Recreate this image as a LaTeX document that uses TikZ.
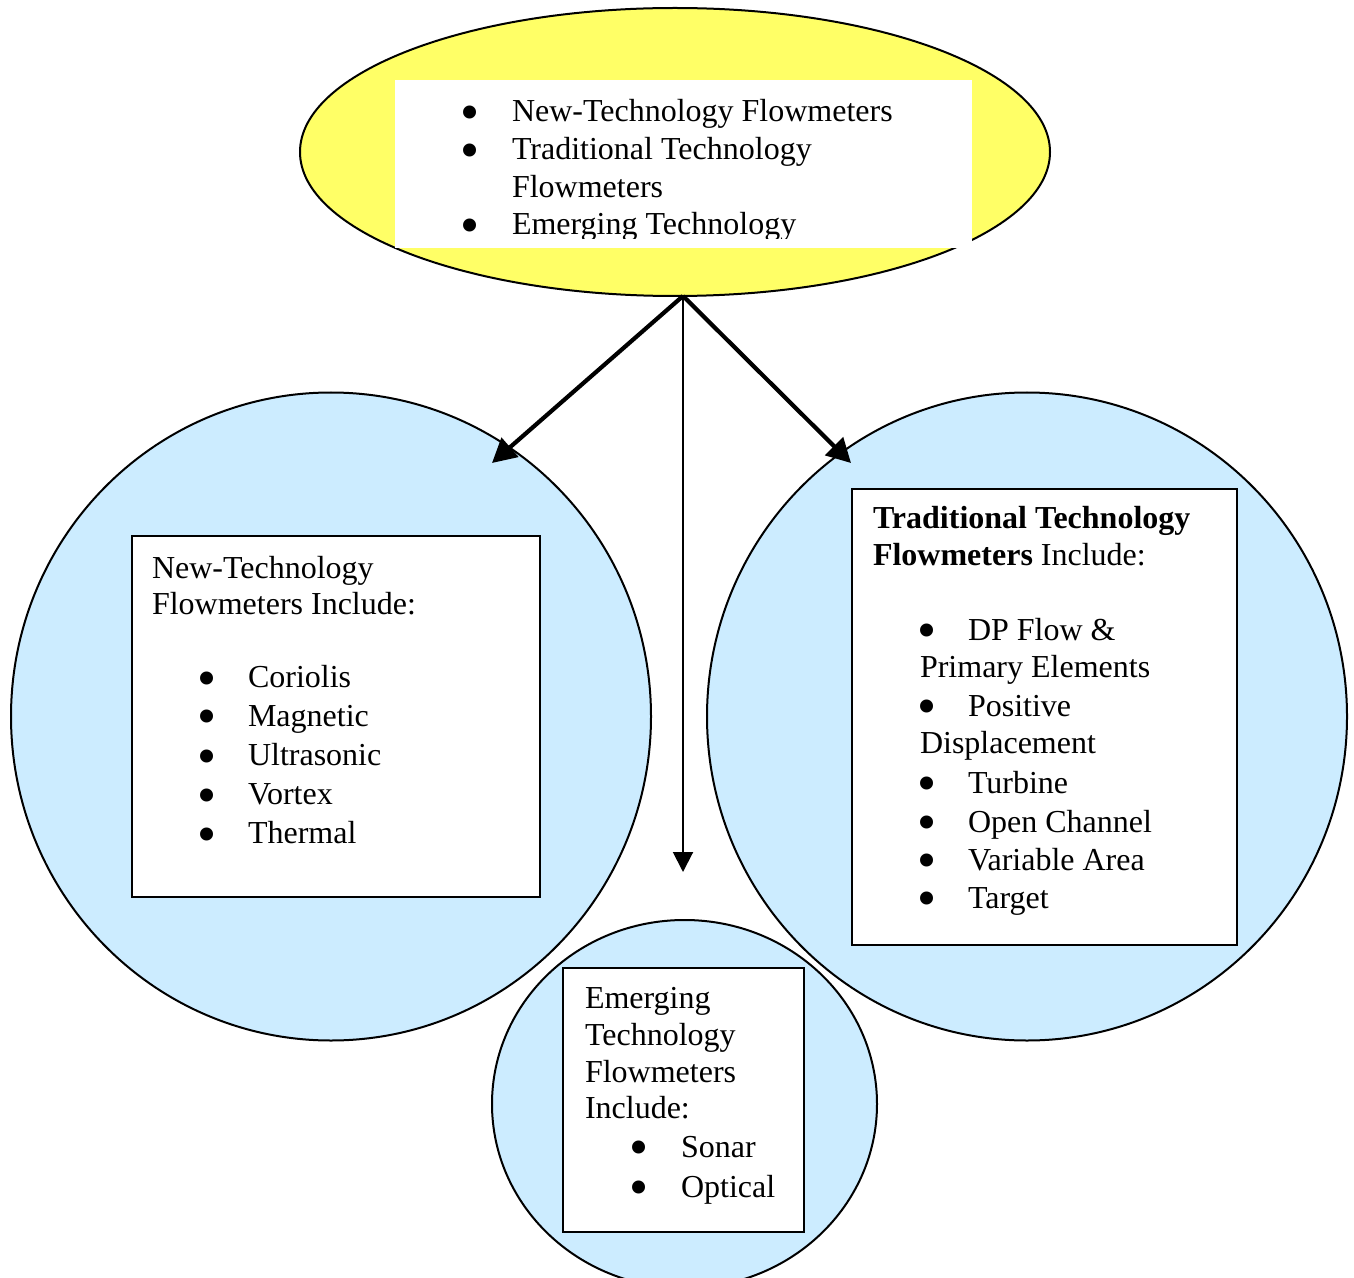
\documentclass[tikz,border=0pt]{standalone}
\usepackage{fontspec}
\usepackage{graphicx}
\setmainfont{Liberation Serif}
\usetikzlibrary{shapes.geometric,arrows.meta}
\definecolor{yel}{RGB}{255,255,102}
\definecolor{lblue}{RGB}{204,236,255}
\newcommand{\bigbul}{\smash{\raisebox{-4.3pt}{\scalebox{1.7}{•}}}}
\begin{document}
\begin{tikzpicture}[x=0.5pt,y=-0.5pt,
  txt/.style={anchor=base west,inner sep=0,outer sep=0,font=\fontsize{16pt}{18.75pt}\selectfont},
  bul/.style={anchor=base,inner sep=0,outer sep=0,font=\fontsize{16pt}{18.75pt}\selectfont},
  bubble/.style={ellipse,draw,line width=1pt,fill=lblue,inner sep=0,outer sep=0},
  listbox/.style={rectangle,draw,line width=1pt,fill=white,inner sep=0,outer sep=0},
  bigarrow/.style={line width=2.1pt,-{Triangle[length=12pt,width=12.5pt]}},
  thinarrow/.style={line width=1pt,-{Triangle[length=10pt,width=10pt]}}]
\useasboundingbox (0,0) rectangle (1354,1278);

% circles
\node[bubble,minimum width=320pt,minimum height=324pt] (newc) at (331,716.5) {};
\node[bubble,minimum width=320pt,minimum height=324pt] (tradc) at (1027,716.5) {};
\node[bubble,minimum width=192.5pt,minimum height=184pt] (emc) at (684.5,1104) {};

% top ellipse
\node[ellipse,draw,line width=1pt,fill=yel,inner sep=0,outer sep=0,minimum width=375pt,minimum height=144pt] (top) at (675,152) {};
\node[rectangle,fill=white,inner sep=0,outer sep=0,minimum width=288.5pt,minimum height=84pt] (topbox) at (683.5,164) {};
\begin{scope}
\clip (395,80) rectangle (972,238.5);
\node[bul] (tb1) at (470,122) {\bigbul};
\node[txt] (tt1) at (512,122) {New-Technology Flowmeters};
\node[bul] (tb2) at (470,160) {\bigbul};
\node[txt] (tt2) at (512,160) {Traditional Technology};
\node[txt] (tt3) at (512,197.5) {Flowmeters};
\node[bul] (tb4) at (470,235) {\bigbul};
\node[txt] (tt4) at (512,235) {Emerging Technology};
\end{scope}

% connectors
\coordinate (apex) at (683,296);
\coordinate (ltip) at (492,463);
\coordinate (rtip) at (851,463);
\coordinate (mtip) at (683,872);
\draw[bigarrow] (apex) -- (ltip);
\draw[bigarrow] (apex) -- (rtip);
\draw[thinarrow] (apex) -- (mtip);

% left box
\node[listbox,minimum width=204pt,minimum height=180.5pt] (newb) at (336,716.5) {};
\node[txt] (n1) at (152,578) {New-Technology};
\node[txt] (n2) at (152,614) {Flowmeters Include:};
\node[bul] (nb3) at (207,687.5) {\bigbul};
\node[txt] (n3) at (248,687.5) {Coriolis};
\node[bul] (nb4) at (207,726) {\bigbul};
\node[txt] (n4) at (248,726) {Magnetic};
\node[bul] (nb5) at (207,765.5) {\bigbul};
\node[txt] (n5) at (248,765.5) {Ultrasonic};
\node[bul] (nb6) at (207,804.5) {\bigbul};
\node[txt] (n6) at (248,804.5) {Vortex};
\node[bul] (nb7) at (207,843.5) {\bigbul};
\node[txt] (n7) at (248,843.5) {Thermal};

% right box
\node[listbox,minimum width=192.5pt,minimum height=228pt] (tradb) at (1044.5,717) {};
\node[txt] (r1) at (873,528) {\textbf{Traditional Technology}};
\node[txt] (r2) at (873,565) {\textbf{Flowmeters} Include:};
\node[bul] (rb3) at (927,640) {\bigbul};
\node[txt] (r3) at (968,640) {DP Flow \&};
\node[txt] (r4) at (920,677) {Primary Elements};
\node[bul] (rb5) at (927,716) {\bigbul};
\node[txt] (r5) at (968,716) {Positive};
\node[txt] (r6) at (920,753) {Displacement};
\node[bul] (rb7) at (927,793) {\bigbul};
\node[txt] (r7) at (968,793) {Turbine};
\node[bul] (rb8) at (927,832) {\bigbul};
\node[txt] (r8) at (968,832) {Open Channel};
\node[bul] (rb9) at (927,870) {\bigbul};
\node[txt] (r9) at (968,870) {Variable Area};
\node[bul] (rb10) at (927,908) {\bigbul};
\node[txt] (r10) at (968,908) {Target};

% bottom box
\node[listbox,minimum width=120.5pt,minimum height=132pt] (emb) at (683.5,1100) {};
\node[txt] (e1) at (585,1008) {Emerging};
\node[txt] (e2) at (585,1045) {Technology};
\node[txt] (e3) at (585,1082) {Flowmeters};
\node[txt] (e4) at (585,1118) {Include:};
\node[bul] (eb5) at (639,1157) {\bigbul};
\node[txt] (e5) at (681,1157) {Sonar};
\node[bul] (eb6) at (639,1197) {\bigbul};
\node[txt] (e6) at (681,1197) {Optical};
\end{tikzpicture}
\end{document}
